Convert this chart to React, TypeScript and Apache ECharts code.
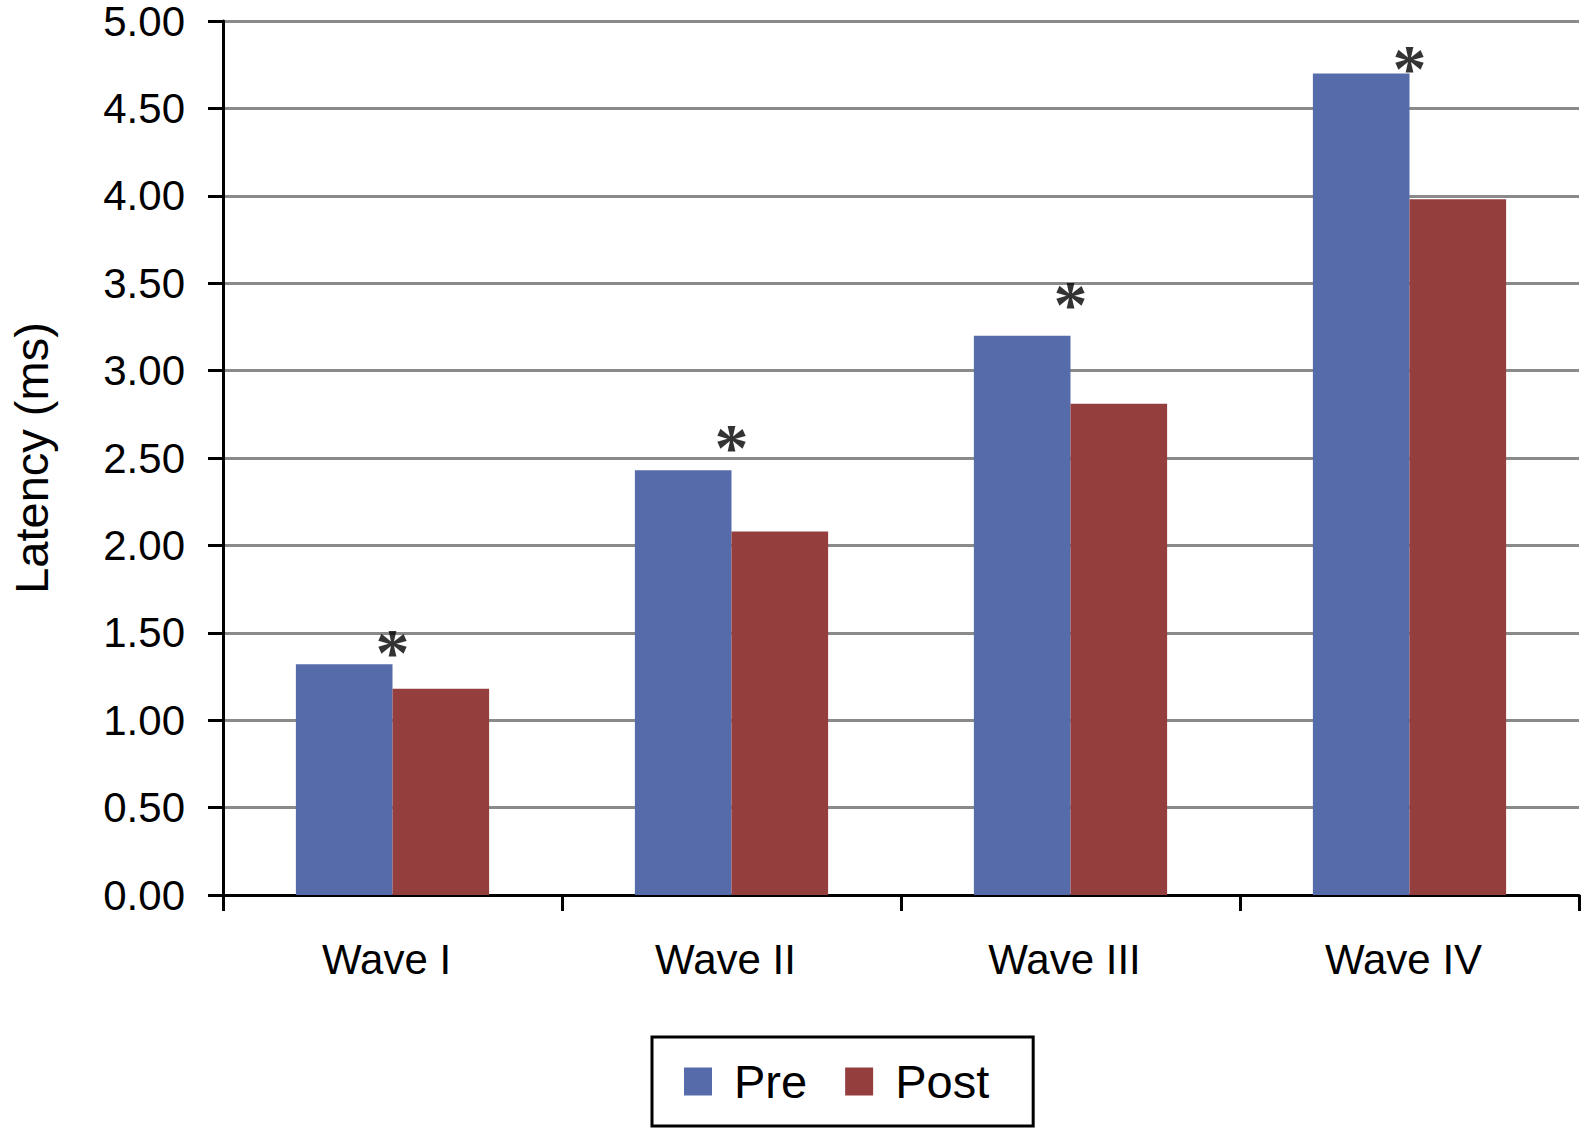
import React, { useEffect, useRef } from "react";
import * as echarts from "echarts";

const categories = ["Wave I", "Wave II", "Wave III", "Wave IV"];
const preValues = [1.32, 2.43, 3.2, 4.7];
const postValues = [1.18, 2.08, 2.81, 3.98];
const asteriskLevels = [1.45, 2.62, 3.44, 4.79];
const yTicks = { min: 0, max: 5, interval: 0.5 };

export default function App() {
  const ref = useRef<HTMLDivElement>(null);
  useEffect(() => {
    document.body.style.margin = "0";
    const chart = echarts.init(ref.current!, undefined, { renderer: "svg" });
    chart.setOption({
      animation: false,
      backgroundColor: "#ffffff",
      textStyle: { fontFamily: "Liberation Sans, Arial, sans-serif", color: "#000" },
      grid: { left: 221, right: 3, top: 19, bottom: 234, containLabel: false },
      legend: {
        data: ["Pre", "Post"],
        left: 652,
        top: 1037,
        orient: "horizontal",
        icon: "rect",
        itemWidth: 28,
        itemHeight: 28,
        itemGap: 38,
        padding: [21, 44, 21, 32],
        borderColor: "#000",
        borderWidth: 3,
        textStyle: {
          fontSize: 47,
          color: "#000",
          fontFamily: "Liberation Sans, Arial, sans-serif",
          padding: [0, 0, 0, 17],
        },
      },
      xAxis: {
        type: "category",
        data: categories,
        boundaryGap: true,
        axisLine: { show: true, lineStyle: { color: "#000", width: 3 } },
        axisTick: { show: true, length: 16, lineStyle: { color: "#000", width: 3 } },
        axisLabel: {
          fontSize: 42,
          color: "#000",
          margin: 43,
          fontFamily: "Liberation Sans, Arial, sans-serif",
          padding: [0, 12, 0, 0],
        },
        splitLine: { show: false },
      },
      yAxis: {
        type: "value",
        min: yTicks.min,
        max: yTicks.max,
        interval: yTicks.interval,
        name: "Latency (ms)",
        nameLocation: "middle",
        nameRotate: 90,
        nameGap: 168,
        nameTextStyle: { fontSize: 47, color: "#000", fontFamily: "Liberation Sans, Arial, sans-serif" },
        axisLine: { show: true, lineStyle: { color: "#000", width: 3 } },
        axisTick: { show: true, length: 15, lineStyle: { color: "#000", width: 3 } },
        axisLabel: {
          fontSize: 42,
          color: "#000",
          margin: 38,
          fontFamily: "Liberation Sans, Arial, sans-serif",
          formatter: (v: number) => v.toFixed(2),
        },
        splitLine: { show: true, lineStyle: { color: "#8a8a8a", width: 3 } },
      },
      series: [
        {
          name: "Pre",
          type: "bar",
          data: preValues,
          barGap: "0%",
          barCategoryGap: "43%",
          itemStyle: { color: "#566BAA" },
        },
        {
          name: "Post",
          type: "bar",
          data: postValues,
          itemStyle: { color: "#943F3E" },
        },
        {
          name: "sig",
          type: "scatter",
          data: asteriskLevels,
          symbolSize: 1,
          itemStyle: { color: "rgba(0,0,0,0)" },
          silent: true,
          z: 10,
          label: {
            show: true,
            position: "inside",
            formatter: "*",
            fontFamily: "Liberation Serif, Times New Roman, serif",
            fontWeight: "bold",
            fontSize: 68,
            color: "#000",
            offset: [0, 10],
          },
        },
      ],
    });
    return () => chart.dispose();
  }, []);
  return (
    <div
      ref={ref}
      style={{ position: "absolute", left: 0, top: 0, width: 1582, height: 1129 }}
    />
  );
}
